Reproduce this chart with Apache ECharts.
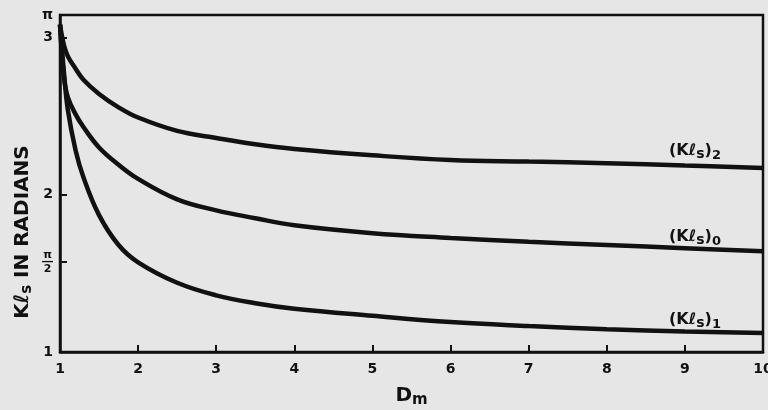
<!DOCTYPE html>
<html>
<head>
<meta charset="utf-8">
<script src="https://cdn.jsdelivr.net/npm/echarts@6/dist/echarts.min.js"></script>
<style>
html,body{margin:0;padding:0;background:#e6e6e6;}
#chart{width:768px;height:410px;}
</style>
</head>
<body>
<div id="chart"></div>
<script>
// Dm values (x)
var dm = [1, 1.05, 1.1, 1.2, 1.3, 1.5, 1.75, 2, 2.5, 3, 3.5, 4, 5, 6, 7, 8, 9, 10];
// (Kls)2 upper curve
var kls2 = [3.08, 2.95, 2.88, 2.80, 2.73, 2.64, 2.555, 2.49, 2.405, 2.36, 2.32, 2.29, 2.25, 2.22, 2.21, 2.20, 2.185, 2.17];
// (Kls)0 middle curve
var kls0 = [3.08, 2.75, 2.62, 2.51, 2.43, 2.30, 2.19, 2.10, 1.97, 1.90, 1.85, 1.805, 1.755, 1.725, 1.70, 1.68, 1.66, 1.64];
// (Kls)1 lower curve
var kls1 = [3.08, 2.78, 2.54, 2.28, 2.11, 1.87, 1.68, 1.57, 1.44, 1.36, 1.31, 1.275, 1.23, 1.19, 1.165, 1.145, 1.13, 1.12];
// tick labels
var xTicks = [1, 2, 3, 4, 5, 6, 7, 8, 9, 10];
var yTicks = [1, Math.PI / 2, 2, 3, Math.PI];
var yTickLabels = ['1', '{f|π}\n{b|―}\n{f|2}', '2', '3', 'π'];
var seriesNames = ['(Kℓs)2', '(Kℓs)0', '(Kℓs)1'];
var seriesSubs = ['2', '0', '1'];

function pairs(ys) { return dm.map(function (d, i) { return [d, ys[i]]; }); }

var ink = '#111';
var font = 'DejaVu Sans';
var chart = echarts.init(document.getElementById('chart'));

function seriesLabel(sub, top) {
  return {
    type: 'text', left: 669, top: top, z: 100,
    style: {
      text: '{a|(Kℓ}{s|s}{a|)}{n|' + sub + '}',
      rich: {
        a: { fontFamily: font, fontWeight: 'bold', fontSize: 16, fill: ink, lineHeight: 19 },
        s: { fontFamily: font, fontWeight: 'bold', fontSize: 14, fill: ink, padding: [6, 0, 0, 0], lineHeight: 19 },
        n: { fontFamily: font, fontWeight: 'bold', fontSize: 13, fill: ink, padding: [9, 0, 0, 0], lineHeight: 19 }
      }
    }
  };
}

var data = [kls2, kls0, kls1];
chart.setOption({
  backgroundColor: '#e6e6e6',
  animation: false,
  grid: { left: 60, right: 5, top: 15, bottom: 58, outerBoundsMode: 'none', containLabel: false,
    show: true, borderColor: ink, borderWidth: 2.5, backgroundColor: 'transparent' },
  xAxis: {
    type: 'value', min: 1, max: 10, interval: 1,
    name: '{d|D}{m|m}', nameLocation: 'middle', nameGap: 31,
    nameTextStyle: {
      rich: {
        d: { fontFamily: font, fontWeight: 'bold', fontSize: 20, color: ink },
        m: { fontFamily: font, fontWeight: 'bold', fontSize: 15, color: ink, padding: [10, 0, 0, 0] }
      }
    },
    axisLine: { lineStyle: { color: ink, width: 2.5 } },
    axisTick: { inside: true, length: 7, lineStyle: { color: ink, width: 2 } },
    axisLabel: { margin: 10, fontFamily: font, fontWeight: 'bold', fontSize: 14, color: ink,
      customValues: xTicks, formatter: function (v) { return String(v); } },
    splitLine: { show: false }
  },
  yAxis: {
    type: 'value', min: 1, max: Math.PI,
    axisLine: { lineStyle: { color: ink, width: 2.5 } },
    axisTick: { inside: true, length: 7, lineStyle: { color: ink, width: 2 }, customValues: yTicks },
    axisLabel: {
      margin: 7, fontFamily: font, fontWeight: 'bold', fontSize: 14, color: ink,
      customValues: yTicks,
      formatter: function (v) {
        for (var i = 0; i < yTicks.length; i++) { if (Math.abs(yTicks[i] - v) < 1e-6) return yTickLabels[i]; }
        return '';
      },
      rich: {
        f: { fontFamily: font, fontWeight: 'bold', fontSize: 11, lineHeight: 10, color: ink, align: 'center' },
        b: { fontFamily: font, fontWeight: 'bold', fontSize: 11, lineHeight: 4, color: ink, align: 'center' }
      }
    },
    splitLine: { show: false }
  },
  series: data.map(function (ys, i) {
    return {
      name: seriesNames[i], type: 'line', data: pairs(ys), smooth: 0.4,
      showSymbol: false, lineStyle: { color: ink, width: 4.5 }, z: 5
    };
  }),
  graphic: [
    {
      type: 'text', x: 23, y: 232, rotation: Math.PI / 2, z: 100,
      style: {
        text: '{a|Kℓ}{s|s}{a| IN RADIANS}', align: 'center', verticalAlign: 'middle',
        rich: {
          a: { fontFamily: font, fontWeight: 'bold', fontSize: 20, fill: ink, lineHeight: 24 },
          s: { fontFamily: font, fontWeight: 'bold', fontSize: 15, fill: ink, padding: [9, 0, 0, 0], lineHeight: 24 }
        }
      }
    },
    seriesLabel(seriesSubs[0], 140),
    seriesLabel(seriesSubs[1], 226),
    seriesLabel(seriesSubs[2], 309)
  ]
});
</script>
</body>
</html>
